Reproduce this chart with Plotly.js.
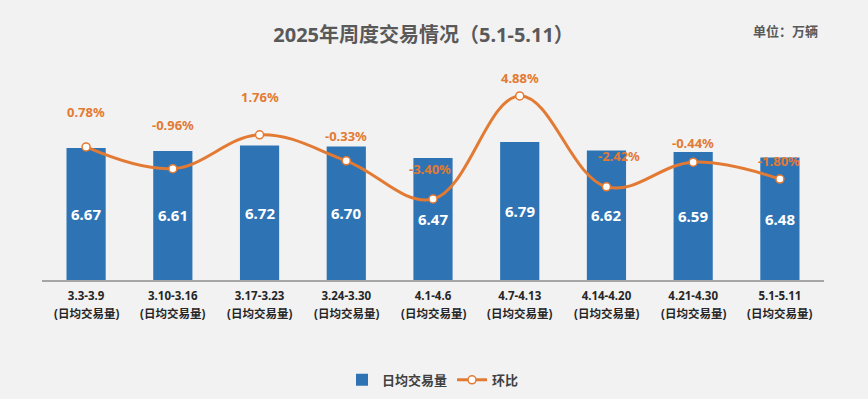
<!DOCTYPE html>
<html>
<head>
<meta charset="utf-8">
<script src="https://cdn.plot.ly/plotly-3.0.1.min.js"></script>
<style>html,body{margin:0;padding:0;background:#f2f2f2;}#chart{width:868px;height:399px;}</style>
</head>
<body>
<div id="chart"></div>
<script>
const weeks = ["3.3-3.9","3.10-3.16","3.17-3.23","3.24-3.30","4.1-4.6","4.7-4.13","4.14-4.20","4.21-4.30","5.1-5.11"];
const tickSuffix = "(日均交易量)";
const dailyVolume = [6.67, 6.61, 6.72, 6.70, 6.47, 6.79, 6.62, 6.59, 6.48];
const momChange = [0.78, -0.96, 1.76, -0.33, -3.40, 4.88, -2.42, -0.44, -1.80];
const seriesNames = ["日均交易量", "环比"];

// label placement (styling, not data)
const labelYShift = [35, 44, 38, 25, 30, 18, 31, 19, 18];
const labelXShift = [0, 0, 0, 0, -3, 0, 13, 0, -1];

const FONT = "'Noto Sans', 'Noto Sans CJK SC', sans-serif";
const orange = "#E37A33";
const blue = "#2E74B5";
const yRange = [4, 8.45];

const bars = {
  type: "bar",
  name: seriesNames[0],
  x: weeks,
  y: dailyVolume,
  marker: {color: blue},
  hoverinfo: "skip"
};
const line = {
  type: "scatter",
  mode: "lines+markers",
  name: seriesNames[1],
  x: weeks,
  y: momChange,
  yaxis: "y2",
  line: {color: orange, width: 3, shape: "spline", smoothing: 1.1},
  marker: {color: "#ffffff", size: 8, line: {color: orange, width: 1.5}},
  hoverinfo: "skip"
};

const annotations = [];
dailyVolume.forEach((v, i) => annotations.push({
  x: weeks[i], y: (yRange[0] + v) / 2, xref: "x", yref: "y",
  text: "<b>" + v.toFixed(2) + "</b>", showarrow: false,
  font: {color: "#ffffff", size: 15, family: FONT}
}));
weeks.forEach((w, i) => annotations.push({
  x: w, y: 0, xref: "x", yref: "paper", yshift: -33, yanchor: "middle",
  text: "<b>" + tickSuffix + "</b>", showarrow: false,
  font: {color: "#262626", size: 11.5, family: FONT}
}));
momChange.forEach((v, i) => annotations.push({
  x: weeks[i], y: v, xref: "x", yref: "y2",
  text: "<b>" + v.toFixed(2) + "%</b>",
  showarrow: false,
  yshift: labelYShift[i], xshift: labelXShift[i],
  font: {color: orange, size: 13, family: FONT}
}));
annotations.push({
  xref: "paper", yref: "paper", x: 1.0, y: 1.0,
  xshift: -4, yshift: 29, xanchor: "right", yanchor: "middle",
  text: "<b>单位：万辆</b>", showarrow: false,
  font: {color: "#595959", size: 13, family: FONT}
});

const layout = {
  width: 868, height: 399,
  paper_bgcolor: "#f2f2f2", plot_bgcolor: "#f2f2f2",
  margin: {l: 42, r: 44, t: 60, b: 119},
  title: {text: "<b>2025年周度交易情况（5.1-5.11）</b>", x: 0.488, xanchor: "center", y: 0.912, yanchor: "middle",
          font: {size: 20, color: "#595959", family: FONT}},
  bargap: 0.548,
  showlegend: true,
  legend: {orientation: "h", x: 0.5, xanchor: "center", yref: "container", y: 0.048, yanchor: "middle",
           font: {size: 13, color: "#404040", family: FONT, weight: "bold"}, bgcolor: "rgba(0,0,0,0)", itemwidth: 30},
  xaxis: {
    tickmode: "array", tickvals: weeks, ticktext: weeks.map(w => "<b>" + w + "</b>"),
    showline: true, linecolor: "#a6a6a6", linewidth: 1.5,
    showgrid: false, zeroline: false, ticks: "", ticklabelstandoff: 5,
    tickfont: {size: 11.5, color: "#262626", family: FONT},
    automargin: false, fixedrange: true
  },
  yaxis: {range: yRange, visible: false, showgrid: false, zeroline: false, fixedrange: true},
  yaxis2: {range: [-9.91, 7.77], overlaying: "y", side: "right", visible: false, showgrid: false, zeroline: false, fixedrange: true},
  annotations: annotations
};

Plotly.newPlot("chart", [bars, line], layout, {displayModeBar: false, staticPlot: true});
</script>
</body>
</html>
